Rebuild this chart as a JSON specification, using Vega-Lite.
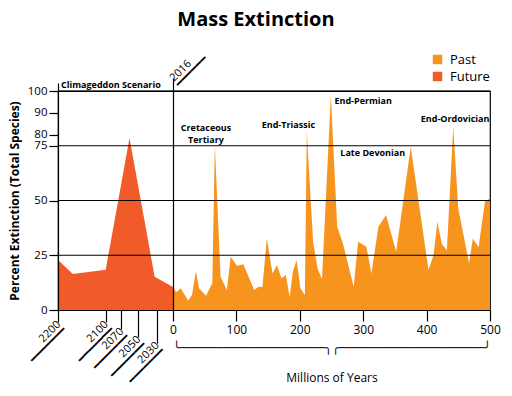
{
  "$schema": "https://vega.github.io/schema/vega-lite/v6.json",
  "width": 432,
  "height": 219,
  "autosize": {"type": "none"},
  "padding": {"left": 58, "top": 91, "right": 22, "bottom": 86},
  "title": {"text": "Mass Extinction", "fontSize": 20, "fontWeight": "bold", "font": "Open Sans", "anchor": "middle", "frame": "group", "dx": -18, "offset": 17, "color": "black"},
  "config": {
    "font": "Open Sans",
    "view": {"stroke": "black", "strokeWidth": 1.2},
    "axis": {"labelColor": "black", "tickColor": "black", "domainColor": "black", "titleColor": "black", "labelFont": "Open Sans, DejaVu Sans", "titleFont": "Open Sans, DejaVu Sans", "tickWidth": 1.2, "domainWidth": 1.2}
  },
  "layer": [
    {
      "data": {"values": [
        {"year": 2200, "pct": 22.8, "period": "Future"},
        {"year": 2169, "pct": 16.4, "period": "Future"},
        {"year": 2100, "pct": 18.4, "period": "Future"},
        {"year": 2060, "pct": 78.5, "period": "Future"},
        {"year": 2032, "pct": 15.2, "period": "Future"},
        {"year": 2016, "pct": 10.5, "period": "Future"}
      ]},
      "mark": {"type": "area", "line": false, "opacity": 1},
      "encoding": {
        "x": {"field": "year", "type": "quantitative",
          "scale": {"domain": [2200, 2100, 2070, 2050, 2030, 2016], "range": [0, 47.7, 63, 80, 98.5, 115], "nice": false, "zero": false},
          "axis": {"orient": "bottom", "values": [2200, 2100, 2070, 2050, 2030], "title": null, "domain": true, "grid": false, "zindex": 1,
            "labelAngle": -45, "labelAlign": "right", "labelBaseline": "bottom",
            "labelExpr": "[datum.value + '\u00a0\u00a0\u00a0\u00a0\u00a0\u00a0\u00a0', '\u2501\u2501\u2501\u2501\u2501\u2501\u2501']",
            "labelFontSize": 11, "labelLineHeight": 8, "labelPadding": 4, "labelOffset": 4, "labelOverlap": false, "labelFlush": false, "labelBound": false,
            "tickSize": {"condition": [{"test": "datum.value == 2070", "value": 19}, {"test": "datum.value == 2050", "value": 27}, {"test": "datum.value == 2030", "value": 33}], "value": 12}
          }
        },
        "y": {"field": "pct", "type": "quantitative", "scale": {"domain": [0, 100], "nice": false},
          "axis": {"values": [0, 25, 50, 75, 80, 90, 100], "title": "Percent Extinction (Total Species)", "titleFontSize": 12, "titleFontWeight": "bold", "titlePadding": 6, "labelFontSize": 11.5, "labelPadding": 2, "tickSize": 9, "grid": false, "zindex": 1, "labelOverlap": false}
        },
        "color": {"field": "period", "type": "nominal",
          "scale": {"domain": ["Past", "Future"], "range": ["#F7941D", "#F15A29"]},
          "legend": {"orient": "none", "legendX": 373, "legendY": -38, "title": null, "symbolType": "square", "symbolSize": 90, "labelFontSize": 13, "labelFont": "Open Sans", "symbolStrokeWidth": 0, "rowPadding": 3, "labelOffset": 6, "labelColor": "black"}
        }
      }
    },
    {
      "data": {"values": [
        {"my": 0, "pct": 10.6, "period": "Past"},
        {"my": 5, "pct": 8.1, "period": "Past"},
        {"my": 12, "pct": 9.9, "period": "Past"},
        {"my": 24, "pct": 4.3, "period": "Past"},
        {"my": 30, "pct": 6.8, "period": "Past"},
        {"my": 36, "pct": 17.8, "period": "Past"},
        {"my": 41, "pct": 9.9, "period": "Past"},
        {"my": 52, "pct": 6.5, "period": "Past"},
        {"my": 62, "pct": 12.2, "period": "Past"},
        {"my": 66, "pct": 75.3, "period": "Past"},
        {"my": 75, "pct": 15.2, "period": "Past"},
        {"my": 85, "pct": 9.1, "period": "Past"},
        {"my": 91, "pct": 24.3, "period": "Past"},
        {"my": 101, "pct": 20.2, "period": "Past"},
        {"my": 111, "pct": 20.9, "period": "Past"},
        {"my": 128, "pct": 9.1, "period": "Past"},
        {"my": 135, "pct": 10.6, "period": "Past"},
        {"my": 141, "pct": 10.5, "period": "Past"},
        {"my": 148, "pct": 32.7, "period": "Past"},
        {"my": 157, "pct": 16.7, "period": "Past"},
        {"my": 164, "pct": 20.5, "period": "Past"},
        {"my": 171, "pct": 14.5, "period": "Past"},
        {"my": 178, "pct": 16, "period": "Past"},
        {"my": 184, "pct": 6.1, "period": "Past"},
        {"my": 189, "pct": 17.5, "period": "Past"},
        {"my": 195, "pct": 22.8, "period": "Past"},
        {"my": 201, "pct": 9.9, "period": "Past"},
        {"my": 208, "pct": 6.8, "period": "Past"},
        {"my": 211, "pct": 81.4, "period": "Past"},
        {"my": 221, "pct": 31.2, "period": "Past"},
        {"my": 228, "pct": 19, "period": "Past"},
        {"my": 235, "pct": 14.2, "period": "Past"},
        {"my": 249, "pct": 98, "period": "Past"},
        {"my": 259, "pct": 38, "period": "Past"},
        {"my": 268, "pct": 30.4, "period": "Past"},
        {"my": 285, "pct": 10.6, "period": "Past"},
        {"my": 292, "pct": 31.2, "period": "Past"},
        {"my": 305, "pct": 28.9, "period": "Past"},
        {"my": 313, "pct": 16.7, "period": "Past"},
        {"my": 324, "pct": 38, "period": "Past"},
        {"my": 336, "pct": 43.4, "period": "Past"},
        {"my": 352, "pct": 26.6, "period": "Past"},
        {"my": 375, "pct": 74.6, "period": "Past"},
        {"my": 403, "pct": 18.3, "period": "Past"},
        {"my": 411, "pct": 25.1, "period": "Past"},
        {"my": 417, "pct": 40.3, "period": "Past"},
        {"my": 424, "pct": 30.1, "period": "Past"},
        {"my": 432, "pct": 27.4, "period": "Past"},
        {"my": 442, "pct": 83.7, "period": "Past"},
        {"my": 450, "pct": 46.4, "period": "Past"},
        {"my": 467, "pct": 21.3, "period": "Past"},
        {"my": 473, "pct": 32.7, "period": "Past"},
        {"my": 482, "pct": 28.6, "period": "Past"},
        {"my": 492, "pct": 49.5, "period": "Past"},
        {"my": 500, "pct": 51, "period": "Past"}
      ]},
      "mark": {"type": "area", "line": false, "opacity": 1},
      "encoding": {
        "x": {"field": "my", "type": "quantitative",
          "scale": {"domain": [0, 500], "range": [115, 432], "nice": false, "zero": false},
          "axis": {"orient": "bottom", "values": [0, 100, 200, 300, 400, 500], "format": "d", "tickSize": 11, "labelPadding": 3, "labelFontSize": 12, "labelFlush": false, "labelOverlap": false,
            "grid": true, "gridColor": "black", "gridWidth": 1.2, "gridOpacity": {"condition": {"test": "datum.value == 0", "value": 1}, "value": 0}, "zindex": 1,
            "title": ["\u2570\u2500\u2500\u2500\u2500\u2500\u2500\u2500\u2500\u2500\u2500\u2500\u2500\u2500\u2500\u2500\u2500\u2500\u2500\u2500\u2500\u256e\u256d\u2500\u2500\u2500\u2500\u2500\u2500\u2500\u2500\u2500\u2500\u2500\u2500\u2500\u2500\u2500\u2500\u2500\u2500\u2500\u2500\u256f", "Millions of Years"],
            "titleFontSize": 12, "titleFontWeight": "normal", "titlePadding": 7, "titleLineHeight": 30}
        },
        "y": {"field": "pct", "type": "quantitative",
          "axis": {"values": [0, 25, 50, 75, 80, 90, 100], "title": "Percent Extinction (Total Species)", "titleFontSize": 12, "titleFontWeight": "bold", "titlePadding": 6, "labelFontSize": 11.5, "labelPadding": 2, "tickSize": 9, "grid": false, "zindex": 1, "labelOverlap": false}
        },
        "color": {"field": "period", "type": "nominal"}
      }
    },
    {
      "data": {"values": [{"pct": 25}, {"pct": 50}, {"pct": 75}, {"pct": 100}]},
      "mark": {"type": "rule", "color": "black", "strokeWidth": 1.2},
      "encoding": {
        "y": {"field": "pct", "type": "quantitative",
          "axis": {"values": [0, 25, 50, 75, 80, 90, 100], "title": "Percent Extinction (Total Species)", "titleFontSize": 12, "titleFontWeight": "bold", "titlePadding": 6, "labelFontSize": 11.5, "labelPadding": 2, "tickSize": 9, "grid": false, "zindex": 1, "labelOverlap": false}
        }
      }
    },
    {
      "data": {"values": [
        {"label": "Cretaceous\nTertiary", "my": 52, "pct": 83},
        {"label": "End-Triassic", "my": 182, "pct": 84.5},
        {"label": "End-Permian", "my": 300, "pct": 95.6},
        {"label": "Late Devonian", "my": 315, "pct": 71.5},
        {"label": "End-Ordovician", "my": 445, "pct": 87}
      ]},
      "mark": {"type": "text", "lineBreak": "\n", "fontSize": 9, "fontWeight": "bold", "font": "Open Sans", "align": "center", "baseline": "middle", "lineHeight": 11.5, "color": "black"},
      "encoding": {
        "x": {"field": "my", "type": "quantitative",
          "scale": {"domain": [0, 500], "range": [115, 432], "nice": false, "zero": false},
          "axis": {"orient": "top", "values": [0], "tickSize": 13, "domain": false, "grid": false, "title": null,
            "labelAngle": -45, "labelAlign": "left", "labelBaseline": "bottom",
            "labelExpr": "['2016', '\u2501\u2501\u2501\u2501\u2501\u2501']",
            "labelFontSize": 11, "labelLineHeight": 8, "labelPadding": -5, "labelOffset": 2, "labelFlush": false, "labelOverlap": false, "labelBound": false, "zindex": 1}
        },
        "y": {"field": "pct", "type": "quantitative",
          "axis": {"values": [0, 25, 50, 75, 80, 90, 100], "title": "Percent Extinction (Total Species)", "titleFontSize": 12, "titleFontWeight": "bold", "titlePadding": 6, "labelFontSize": 11.5, "labelPadding": 2, "tickSize": 9, "grid": false, "zindex": 1, "labelOverlap": false}
        },
        "text": {"field": "label", "type": "nominal"}
      }
    },
    {
      "data": {"values": [{"label": "Climageddon Scenario", "pct": 100}]},
      "mark": {"type": "text", "fontSize": 9, "fontWeight": "bold", "font": "Open Sans", "align": "left", "baseline": "bottom", "dx": 3, "dy": -1, "color": "black"},
      "encoding": {
        "x": {"datum": 2200, "type": "quantitative",
          "scale": {"domain": [2200, 2100, 2070, 2050, 2030, 2016], "range": [0, 47.7, 63, 80, 98.5, 115], "nice": false, "zero": false},
          "axis": {"orient": "top", "values": [2200], "tickSize": 8, "labels": false, "domain": false, "grid": false, "title": null}
        },
        "y": {"field": "pct", "type": "quantitative",
          "axis": {"values": [0, 25, 50, 75, 80, 90, 100], "title": "Percent Extinction (Total Species)", "titleFontSize": 12, "titleFontWeight": "bold", "titlePadding": 6, "labelFontSize": 11.5, "labelPadding": 2, "tickSize": 9, "grid": false, "zindex": 1, "labelOverlap": false}
        },
        "text": {"field": "label", "type": "nominal"}
      }
    }
  ],
  "resolve": {"scale": {"x": "independent"}}
}
